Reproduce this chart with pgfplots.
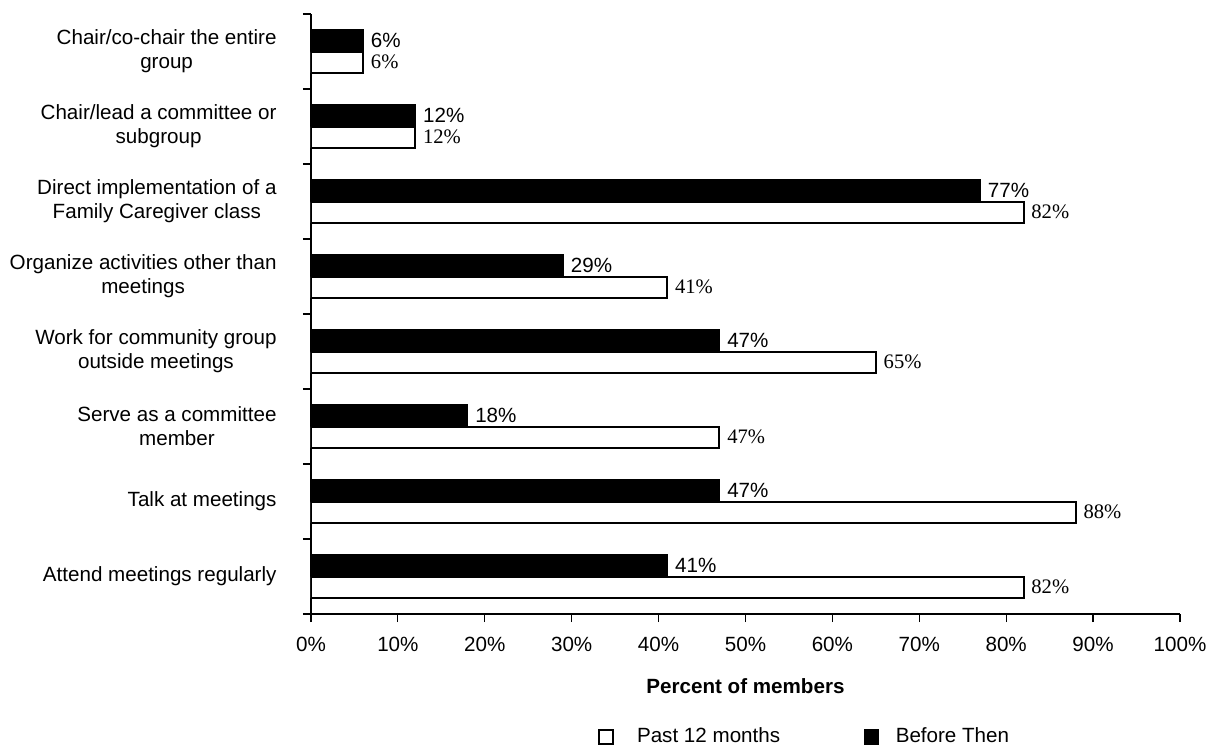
\documentclass[border=0pt]{standalone}
\usepackage{fontspec}
\setmainfont{Liberation Sans}
\newfontfamily\seriffont{Liberation Serif}
\usepackage{pgfplots}
\pgfplotsset{compat=1.18}

\begin{document}
\fontsize{10.3}{12}\selectfont
\begin{tikzpicture}
\useasboundingbox (-155.5pt,-66pt) rectangle (448pt,307pt);
\begin{axis}[
  at={(0,0)}, anchor=south west,
  scale only axis, width=434.5pt, height=300pt,
  xbar, bar width=10.75pt,
  xmin=0, xmax=100, ymin=-0.5, ymax=7.5,
  axis x line*=bottom, axis y line*=left,
  axis line style={black, line width=0.6pt},
  every tick/.style={black, line width=0.6pt},
  tick align=outside, major tick length=4pt,
  /pgf/number format/assume math mode=true,
  xtick={0,10,...,100},
  xticklabel={\pgfmathprintnumber{\tick}\%},
  xticklabel style={font=\fontsize{10.3}{12}\selectfont, yshift=-4pt},
  ytick={-0.5,0.5,...,7.5},
  yticklabels={,,,,,,,,},
  extra y ticks={0,1,2,3,4,5,6,7},
  extra y tick labels={
    {Attend meetings regularly},
    {Talk at meetings},
    {Serve as a committee\\member},
    {Work for community group\\outside meetings},
    {Organize activities other than\\meetings},
    {Direct implementation of a\\Family Caregiver class},
    {Chair/lead a committee or\\subgroup},
    {Chair/co-chair the entire\\group}},
  extra y tick style={tick style={draw=none},
    yticklabel style={align=center, font=\fontsize{10.3}{12}\selectfont, xshift=-9.6pt}},
  xlabel={\textbf{Percent of members}},
  xlabel style={at={(axis description cs:0.5,-0.12)}, anchor=center, font=\fontsize{10.3}{12}\selectfont},
  legend columns=2,
  legend style={at={(axis description cs:0.3303,-0.205)}, anchor=west, draw=none, fill=none,
    inner sep=0pt, font=\fontsize{10.3}{12}\selectfont,
    /tikz/every even column/.append style={column sep=40pt}},
  legend cell align=left,
]
\addplot[fill=white, draw=black, line width=1pt, bar shift=-5.375pt,
  nodes near coords={\seriffont\pgfmathprintnumber{\pgfplotspointmeta}\%},
  nodes near coords style={anchor=west, font=\fontsize{10.3}{12}\selectfont\seriffont, black},
  legend image code/.code={\draw[black, line width=0.6pt, fill=white] (0pt,-3.5pt) rectangle (7pt,3.5pt); \path[draw=none, fill=none] (0pt,0pt) -- (17pt,0pt);}]
  coordinates {(82,0) (88,1) (47,2) (65,3) (41,4) (82,5) (12,6) (6,7)};
\addlegendentry{Past 12 months}
\addplot[fill=black, draw=black, line width=1pt, bar shift=5.375pt,
  nodes near coords={\pgfmathprintnumber{\pgfplotspointmeta}\%},
  nodes near coords style={anchor=west, font=\fontsize{10.3}{12}\selectfont, black},
  legend image code/.code={\draw[black, line width=0.6pt, fill=black] (0pt,-3.5pt) rectangle (7pt,3.5pt); \path[draw=none, fill=none] (0pt,0pt) -- (13.5pt,0pt);}]
  coordinates {(41,0) (47,1) (18,2) (47,3) (29,4) (77,5) (12,6) (6,7)};
\addlegendentry{Before Then}
\end{axis}
\end{tikzpicture}
\end{document}
